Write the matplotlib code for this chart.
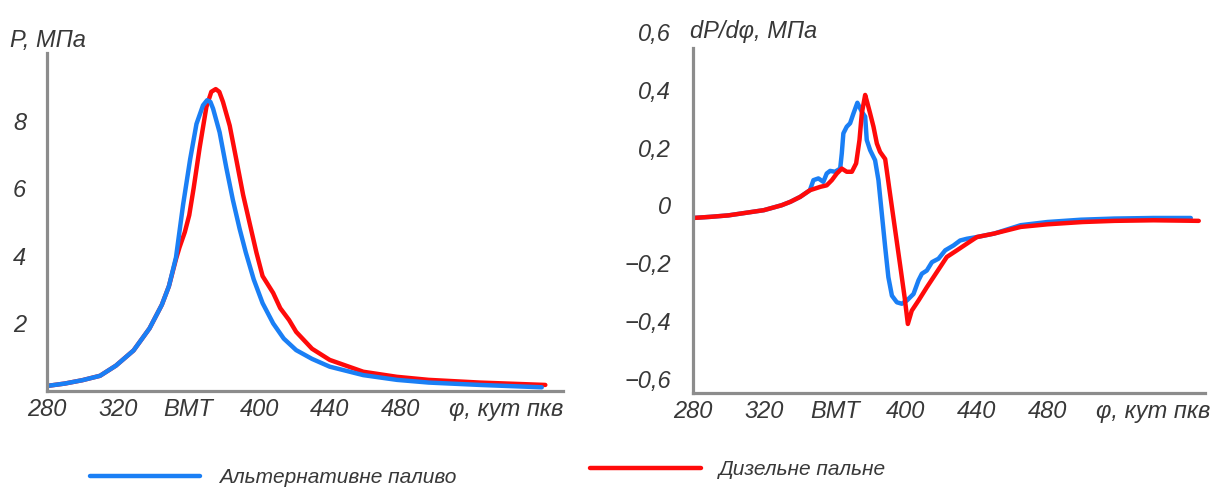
import numpy as np
import matplotlib
matplotlib.use('Agg')
import matplotlib.pyplot as plt

plt.rcParams['font.family'] = ['Liberation Sans', 'DejaVu Sans']
plt.rcParams['font.style'] = 'italic'
plt.rcParams['font.size'] = 17
plt.rcParams['text.color'] = '#383838'
plt.rcParams['xtick.color'] = '#383838'
plt.rcParams['ytick.color'] = '#383838'

# кут повороту колінчастого вала, град
phi_ticks = [280, 320, 360, 400, 440, 480, 540]
phi_labels = ['280', '320', 'ВМТ', '400', '440', '480', 'φ, кут пкв']

# тиск у циліндрі, МПа
phi_p_alt = [280, 290, 300, 310, 319, 329, 338, 345, 349, 353, 357, 361, 364.6, 368.3,
             370.6, 372.5, 374, 377.7, 381.5, 385.2, 389, 392.5, 397, 402, 408, 414, 421, 430,
             440, 459, 478, 496, 525, 560]
p_alt = [0.15, 0.22, 0.32, 0.45, 0.75, 1.2, 1.85, 2.55, 3.1, 3.95, 5.5, 6.85, 7.9, 8.45,
         8.6, 8.55, 8.35, 7.65, 6.6, 5.65, 4.8, 4.1, 3.3, 2.6, 2.0, 1.55, 1.21, 0.95,
         0.72, 0.47, 0.33, 0.25, 0.18, 0.11]

phi_p_dis = [280, 290, 300, 310, 319, 329, 338, 345, 349, 353, 355, 358, 360.5, 363, 366.4,
             370.2, 373, 375.5, 377.5, 379.6, 383.4, 387.2, 391, 394.7, 398.5, 402, 408, 412, 417,
             421, 430, 440, 459, 478, 496, 525, 562]
p_dis = [0.15, 0.22, 0.32, 0.45, 0.75, 1.2, 1.85, 2.55, 3.1, 3.9, 4.25, 4.7, 5.2, 6.0, 7.2,
         8.4, 8.85, 8.93, 8.85, 8.55, 7.85, 6.83, 5.8, 4.96, 4.1, 3.4, 2.9, 2.45, 2.1,
         1.75, 1.25, 0.92, 0.57, 0.42, 0.33, 0.25, 0.18]

# швидкість наростання тиску dP/dφ
phi_d_dis = [280, 290, 300, 310, 320, 330, 335, 340.5, 346, 352, 355.5, 358.4, 361.2, 364,
             366.8, 369.7, 372.1, 374, 375.3, 377.2, 378.5, 380, 381.9, 383.8, 385.6, 388.5,
             391, 394, 397, 399.5, 401.3, 403.5, 407.3, 412, 417.7, 423.3, 429, 434.6, 440.3,
             450, 465, 480, 500, 518, 540, 565.5]
d_dis = [-0.044, -0.04, -0.035, -0.026, -0.017, 0.0, 0.012, 0.029, 0.052, 0.064, 0.069, 0.087,
         0.110, 0.127, 0.116, 0.116, 0.145, 0.226, 0.318, 0.382, 0.353, 0.318, 0.272, 0.214,
         0.185, 0.16, 0.05, -0.08, -0.21, -0.32, -0.411, -0.365, -0.330, -0.284, -0.231,
         -0.179, -0.156, -0.133, -0.110, -0.098, -0.075, -0.066, -0.058, -0.054, -0.052, -0.054]

phi_d_alt = [280, 290, 300, 310, 320, 330, 335, 340.5, 346, 348, 350.8, 353.6, 355.5, 357.4,
             360.2, 363.1, 364, 364.9, 366.8, 368.7, 370.6, 372.8, 375.3, 377.2, 378.1, 380,
             382.8, 384.7, 386.6, 388.5, 390.3, 392.3, 395.1, 397.9, 400.7, 404.5, 407.3,
             409.2, 412, 414.9, 418.6, 422.4, 427.1, 430.8, 434.6, 440.3, 450, 465, 480, 499,
             518, 540, 561]
d_alt = [-0.044, -0.04, -0.035, -0.026, -0.017, 0.0, 0.012, 0.029, 0.052, 0.087, 0.093, 0.081,
         0.110, 0.119, 0.116, 0.127, 0.179, 0.249, 0.272, 0.284, 0.318, 0.355, 0.324, 0.307,
         0.226, 0.191, 0.156, 0.087, -0.029, -0.145, -0.249, -0.313, -0.336, -0.341, -0.330,
         -0.307, -0.260, -0.237, -0.226, -0.197, -0.185, -0.156, -0.139, -0.122, -0.116,
         -0.110, -0.098, -0.069, -0.058, -0.05, -0.046, -0.044, -0.044]

d_ticks = [-0.6, -0.4, -0.2, 0, 0.2, 0.4, 0.6]
d_labels = ['\u22120,6', '\u22120,4', '\u22120,2', '0', '0,2', '0,4', '0,6']

blue = '#1a7ff5'
red = '#ff0a0a'
axis_gray = '#8c8c8c'
lw = 3.2

fig = plt.figure(figsize=(12.17, 4.90), dpi=100)
ax1 = fig.add_axes([0.0386, 0.202, 0.4240, 0.690])
ax2 = fig.add_axes([0.5694, 0.198, 0.4207, 0.7367])

for ax in (ax1, ax2):
    for s in ('top', 'right'):
        ax.spines[s].set_visible(False)
    for s in ('left', 'bottom'):
        ax.spines[s].set_color(axis_gray)
        ax.spines[s].set_linewidth(2.3)
    ax.set_xticks(phi_ticks)
    ax.set_xticklabels(phi_labels)
    ax.tick_params(axis='both', length=0)
    ax.tick_params(axis='x', pad=5)

# тиск
line_dis, = ax1.plot(phi_p_dis, p_dis, color=red, lw=lw, solid_capstyle='round')
line_alt, = ax1.plot(phi_p_alt, p_alt, color=blue, lw=lw, solid_capstyle='round')
ax1.set_xlim(280, 572)
ax1.set_ylim(0, 10)
ax1.set_yticks([2, 4, 6, 8])
ax1.tick_params(axis='y', pad=15)
ax1.text(-0.072, 1.038, 'P, МПа', transform=ax1.transAxes, ha='left', va='center')

# похідна тиску
ax2.plot(phi_d_alt, d_alt, color=blue, lw=lw, solid_capstyle='round')
ax2.plot(phi_d_dis, d_dis, color=red, lw=lw, solid_capstyle='round')
ax2.set_xlim(280, 569)
ax2.set_ylim(-0.65, 0.6)
ax2.spines['left'].set_bounds(-0.65, 0.545)
ax2.set_yticks(d_ticks)
ax2.set_yticklabels(d_labels)
ax2.tick_params(axis='y', pad=16)
ax2.text(-0.006, 1.0, 'dP/dφ, МПа', transform=ax2.transAxes, ha='left', va='center')

leg_kw = dict(frameon=False, loc='center left', borderaxespad=0, borderpad=0,
              handlelength=5.3, handletextpad=0.9, fontsize=15)
fig.legend(handles=[line_alt], labels=['Альтернативне паливо'],
           bbox_to_anchor=(0.074, 0.025), **leg_kw)
fig.legend(handles=[line_dis], labels=['Дизельне пальне'],
           bbox_to_anchor=(0.485, 0.041), **leg_kw)

plt.savefig('out.png', dpi=100)
